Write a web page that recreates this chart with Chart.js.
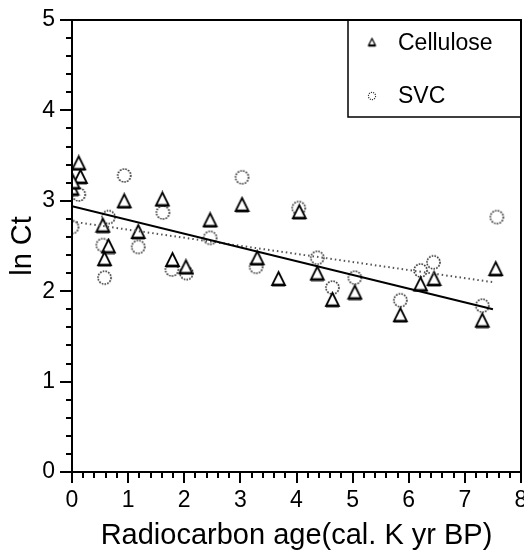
<!DOCTYPE html>
<html><head><meta charset="utf-8">
<script src="https://cdn.jsdelivr.net/npm/chart.js@4.4.1/dist/chart.umd.min.js"></script>
<style>html,body{margin:0;padding:0;background:#fff}#wrap{width:524px;height:550px;position:relative}</style>
</head><body><div id="wrap"><canvas id="c" width="524" height="550"></canvas></div>
<script>
// ---- data ----
const xTickLabels = ['0','1','2','3','4','5','6','7','8'];
const yTickLabels = ['0','1','2','3','4','5'];
const seriesNames = ['Cellulose', 'SVC'];
const xAxisTitle = 'Radiocarbon age(cal. K yr BP)';
const yAxisTitle = 'ln Ct';

const celluloseAge  = [0.12, 0.15, 0.00, 0.02, 0.93, 0.55, 0.65, 0.58, 1.18, 1.61, 1.79, 2.03, 2.46, 3.03, 3.30, 3.68, 4.05, 4.37, 4.64, 5.04, 5.85, 6.21, 6.45, 7.31, 7.55];
const celluloseLnCt = [3.42, 3.27, 3.14, 3.21, 3.00, 2.73, 2.50, 2.36, 2.66, 3.02, 2.35, 2.27, 2.79, 2.96, 2.37, 2.14, 2.88, 2.20, 1.91, 1.99, 1.74, 2.08, 2.14, 1.68, 2.25];

const svcAge  = [0.12, 0.00, 0.93, 0.65, 0.55, 0.58, 1.18, 1.62, 1.78, 2.04, 2.46, 3.03, 3.28, 4.04, 4.37, 4.64, 5.04, 5.85, 6.21, 6.44, 7.31, 7.57];
const svcLnCt = [3.07, 2.71, 3.28, 2.82, 2.51, 2.15, 2.49, 2.87, 2.24, 2.20, 2.59, 3.26, 2.27, 2.92, 2.37, 2.04, 2.15, 1.90, 2.23, 2.32, 1.84, 2.82];

const celluloseFitAge  = [0, 7.5];
const celluloseFitLnCt = [2.94, 1.80];
const svcFitAge  = [0, 7.5];
const svcFitLnCt = [2.77, 2.10];

// ---- marker images ----
function triangleImg(w, h, lw) {
  const c = document.createElement('canvas');
  c.width = w + 4; c.height = h + 4;
  const g = c.getContext('2d');
  g.lineJoin = 'miter';
  g.fillStyle = '#fff'; g.strokeStyle = '#000'; g.lineWidth = lw;
  g.beginPath();
  g.moveTo(c.width / 2, 2);
  g.lineTo(2 + w, 2 + h);
  g.lineTo(2, 2 + h);
  g.closePath();
  g.fill(); g.stroke();
  g.lineWidth = lw + 1;
  g.beginPath(); g.moveTo(2, 2 + h); g.lineTo(2 + w, 2 + h); g.stroke();
  return c;
}
function circleImg(r, lw, dash) {
  const s = Math.ceil(2 * r + 4);
  const c = document.createElement('canvas');
  c.width = s; c.height = s;
  const g = c.getContext('2d');
  g.setLineDash(dash); g.lineWidth = lw; g.strokeStyle = '#333';
  g.beginPath(); g.arc(s / 2, s / 2, r, 0, Math.PI * 2); g.stroke();
  return c;
}
const triBig = triangleImg(13, 13, 1.8);
const cirBig = circleImg(6.5, 1.6, [1.6, 1.2]);
const triSmall = triangleImg(7, 7, 1.2);
const cirSmall = circleImg(3.6, 1.1, [1.2, 1]);

const FONT = "'Liberation Sans', Arial, sans-serif";

const frame = {
  id: 'frame',
  afterDraw(chart) {
    const { ctx, chartArea: a, scales: { x, y } } = chart;
    ctx.save();
    ctx.strokeStyle = '#000';
    ctx.lineWidth = 2;
    ctx.strokeRect(a.left, a.top, a.right - a.left, a.bottom - a.top);
    // x ticks
    for (let i = 0; i <= 40; i++) {
      const v = i / 5;
      const px = Math.round(x.getPixelForValue(v));
      const len = (i % 5 === 0) ? 11 : 6;
      ctx.beginPath(); ctx.moveTo(px, a.bottom); ctx.lineTo(px, a.bottom + len); ctx.stroke();
    }
    for (let i = 0; i <= 25; i++) {
      const v = i / 5;
      const py = Math.round(y.getPixelForValue(v));
      const len = (i % 5 === 0) ? 12 : 6;
      ctx.beginPath(); ctx.moveTo(a.left, py); ctx.lineTo(a.left - len, py); ctx.stroke();
    }
    // legend
    const lx = 348, ly = a.top, lr = a.right, lb = 117;
    ctx.lineWidth = 1.5;
    ctx.beginPath();
    ctx.moveTo(lx, ly); ctx.lineTo(lx, lb); ctx.lineTo(lr, lb);
    ctx.stroke();
    ctx.drawImage(triSmall, 372 - triSmall.width / 2, 42 - triSmall.height / 2);
    ctx.drawImage(cirSmall, 372 - cirSmall.width / 2, 96 - cirSmall.height / 2);
    ctx.fillStyle = '#000';
    ctx.font = '23px ' + FONT;
    ctx.textBaseline = 'middle';
    ctx.textAlign = 'left';
    ctx.fillText(seriesNames[0], 398, 44);
    ctx.fillText(seriesNames[1], 398, 97);
    ctx.restore();
  }
};

const toPts = (xs, ys) => xs.map((v, i) => ({ x: v, y: ys[i] }));

new Chart(document.getElementById('c'), {
  type: 'scatter',
  data: {
    datasets: [
      { label: seriesNames[0], data: toPts(celluloseAge, celluloseLnCt), pointStyle: triBig, pointRadius: 7, showLine: false, order: 2 },
      { label: seriesNames[1], data: toPts(svcAge, svcLnCt), pointStyle: cirBig, pointRadius: 7, showLine: false, order: 3 },
      { type: 'line', label: 'Cellulose fit', data: toPts(celluloseFitAge, celluloseFitLnCt), borderColor: '#000', borderWidth: 2, pointRadius: 0, fill: false, order: 1 },
      { type: 'line', label: 'SVC fit', data: toPts(svcFitAge, svcFitLnCt), borderColor: '#555', borderWidth: 2, borderDash: [1.5, 3], pointRadius: 0, fill: false, order: 1 }
    ]
  },
  options: {
    responsive: false, animation: false, devicePixelRatio: 1,
    layout: { autoPadding: false, padding: { top: 20, right: 3, left: 0, bottom: 0 } },
    plugins: { legend: { display: false }, tooltip: { enabled: false } },
    scales: {
      x: {
        type: 'linear', min: 0, max: 8,
        afterFit(s) { s.height = 78; s.paddingLeft = 0; s.paddingRight = 0; },
        grid: { display: false, drawTicks: false },
        border: { display: false },
        ticks: { stepSize: 1, padding: 15, color: '#000', font: { family: FONT, size: 23 },
                 callback: (v) => xTickLabels[v] !== undefined ? xTickLabels[v] : '' },
        title: { display: true, text: xAxisTitle, color: '#000', font: { family: FONT, size: 29, lineHeight: 1 }, padding: { top: 0, bottom: 0 } }
      },
      y: {
        type: 'linear', min: 0, max: 5,
        afterFit(s) { s.width = 72; s.paddingTop = 0; s.paddingBottom = 0; },
        grid: { display: false, drawTicks: false },
        border: { display: false },
        ticks: { stepSize: 1, padding: 17, color: '#000', font: { family: FONT, size: 23 },
                 callback: (v) => yTickLabels[v] !== undefined ? yTickLabels[v] : '' },
        title: { display: true, text: yAxisTitle, color: '#000', font: { family: FONT, size: 29, lineHeight: 1 }, padding: { top: 8, bottom: 0 } }
      }
    }
  },
  plugins: [frame]
});
</script></body></html>
